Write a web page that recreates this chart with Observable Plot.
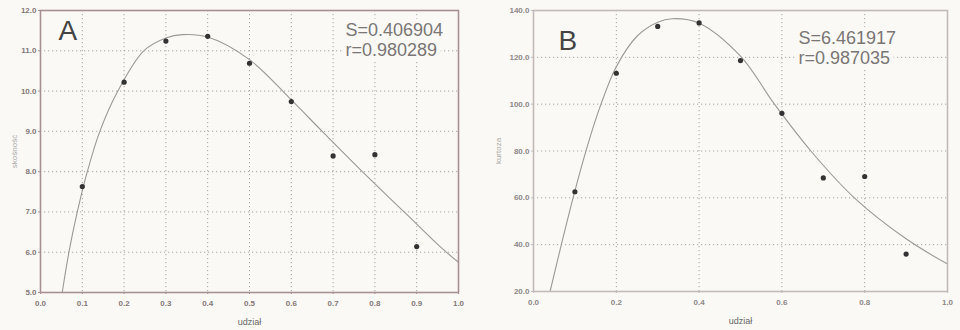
<!DOCTYPE html>
<html><head><meta charset="utf-8">
<script src="https://cdn.jsdelivr.net/npm/d3@7"></script>
<script src="https://cdn.jsdelivr.net/npm/@observablehq/plot@0.6"></script>
<style>
html,body{margin:0;padding:0;background:#faf9f5;}
#wrap{display:flex;width:960px;height:330px;overflow:hidden;}
svg{font-family:"Liberation Sans",Arial,sans-serif;}
</style></head>
<body><div id="wrap"></div>
<script>
// measured data (udział vs. statistic)
const udzial = [0.1, 0.2, 0.3, 0.4, 0.5, 0.6, 0.7, 0.8, 0.9];
const skosnosc = [7.63, 10.22, 11.24, 11.36, 10.69, 9.74, 8.39, 8.42, 6.14];
const kurtoza = [62.6, 113.2, 133.2, 134.7, 118.6, 96.1, 68.5, 69.1, 36.0];

// fitted curves
const fitA_x = [0.052, 0.068, 0.088, 0.112, 0.142, 0.185, 0.247, 0.300, 0.340, 0.400, 0.500, 0.600, 0.674, 0.770, 0.870, 0.960, 1.000];
const fitA_y = [5.0, 6.0, 7.0, 8.0, 9.0, 10.0, 11.0, 11.32, 11.40, 11.34, 10.78, 9.78, 9.0, 8.0, 7.0, 6.1, 5.75];
const fitB_x = [0.040, 0.070, 0.100, 0.130, 0.160, 0.200, 0.250, 0.300, 0.335, 0.400, 0.500, 0.582, 0.670, 0.775, 0.900, 1.000];
const fitB_y = [20, 42, 63, 82, 98.5, 116, 129, 135, 136.5, 134.6, 120.5, 100, 80, 60, 42.5, 31.7];

// tick labels
const xTicksA = [0, 0.1, 0.2, 0.3, 0.4, 0.5, 0.6, 0.7, 0.8, 0.9, 1.0];
const yTicksA = [5, 6, 7, 8, 9, 10, 11, 12];
const xTicksB = [0, 0.2, 0.4, 0.6, 0.8, 1.0];
const yTicksB = [20, 40, 60, 80, 100, 120, 140];

const panelA = {letter: "A", stats: "S=0.406904\nr=0.980289", ylabel: "skośność"};
const panelB = {letter: "B", stats: "S=6.461917\nr=0.987035", ylabel: "kurtoza"};

const bg = "#faf9f5";
const fmt = d3.format(".1f");

function panel(opt) {
  const pts = opt.xs.map((x, i) => ({x, y: opt.ys[i]}));
  const fit = opt.fx.map((x, i) => ({x, y: opt.fy[i]}));
  return Plot.plot({
    width: 480, height: 330,
    marginLeft: opt.ml, marginRight: opt.mr, marginTop: 10, marginBottom: opt.mb,
    style: {background: "transparent", fontFamily: "Liberation Sans, Arial, sans-serif"},
    x: {domain: [0, 1]},
    y: {domain: opt.ydom},
    marks: [
      Plot.gridX(opt.xt.slice(1, -1), {stroke: "#a8a4a4", strokeOpacity: 1, strokeDasharray: "1.2,2.8", strokeWidth: 1}),
      Plot.gridY(opt.yt.slice(1, -1), {stroke: "#a8a4a4", strokeOpacity: 1, strokeDasharray: "1.2,2.8", strokeWidth: 1}),
      Plot.text([opt.p.stats], {frameAnchor: "top-right", textAnchor: "start", lineAnchor: "top", dx: opt.sdx, dy: opt.sdy,
        fontSize: 18, lineHeight: 1.08, fill: "#7a7676", stroke: bg, strokeWidth: 9}),
      Plot.text([opt.p.letter], {frameAnchor: "top-left", textAnchor: "start", lineAnchor: "top", dx: opt.ldx, dy: opt.ldy,
        fontSize: 28, fill: "#444"}),
      Plot.line(fit, {x: "x", y: "y", curve: "catmull-rom", stroke: "#9c9898", strokeWidth: 1.1}),
      Plot.dot(pts, {x: "x", y: "y", r: 2.6, fill: "#333", stroke: "none"}),
      Plot.frame({stroke: opt.fc, strokeWidth: 1.6}),
      Plot.axisX(opt.xt, {tickSize: 2, tickFormat: fmt, fontSize: 8, fontWeight: "bold", color: opt.tc, stroke: opt.fc,
        tickPadding: 6, label: "udział", labelAnchor: "center", labelOffset: 32, labelArrow: "none"}),
      Plot.axisY(opt.yt, {tickSize: 2, tickFormat: fmt, fontSize: 8, fontWeight: "bold", color: opt.tc, stroke: opt.fc,
        tickPadding: 2, label: opt.p.ylabel, labelAnchor: "center", labelOffset: opt.lo, labelArrow: "none"})
    ]
  });
}

const a = panel({xs: udzial, ys: skosnosc, fx: fitA_x, fy: fitA_y, ydom: [5, 12], xt: xTicksA, yt: yTicksA,
  ml: 40, mr: 22, mb: 38, fc: "#a89092", tc: "#857878", ldx: 18, ldy: 10, sdx: -113, sdy: 12, lo: 29, p: panelA});
const b = panel({xs: udzial, ys: kurtoza, fx: fitB_x, fy: fitB_y, ydom: [20, 140], xt: xTicksB, yt: yTicksB,
  ml: 53, mr: 13, mb: 39, fc: "#c2baba", tc: "#8e8888", ldx: 25, ldy: 20, sdx: -149, sdy: 20, lo: 38, p: panelB});

// make the axis labels lighter
for (const svg of [a, b]) {
  svg.querySelectorAll("text").forEach(t => {
    if (t.textContent === "udział") { t.setAttribute("fill", "#666"); t.setAttribute("font-size", "9"); t.setAttribute("font-weight", "normal"); }
    if (t.textContent === "skośność" || t.textContent === "kurtoza") { t.setAttribute("fill", "#aaa"); t.setAttribute("font-size", "8"); t.setAttribute("font-weight", "normal"); }
  });
}
document.getElementById("wrap").append(a, b);
</script>
</body></html>
